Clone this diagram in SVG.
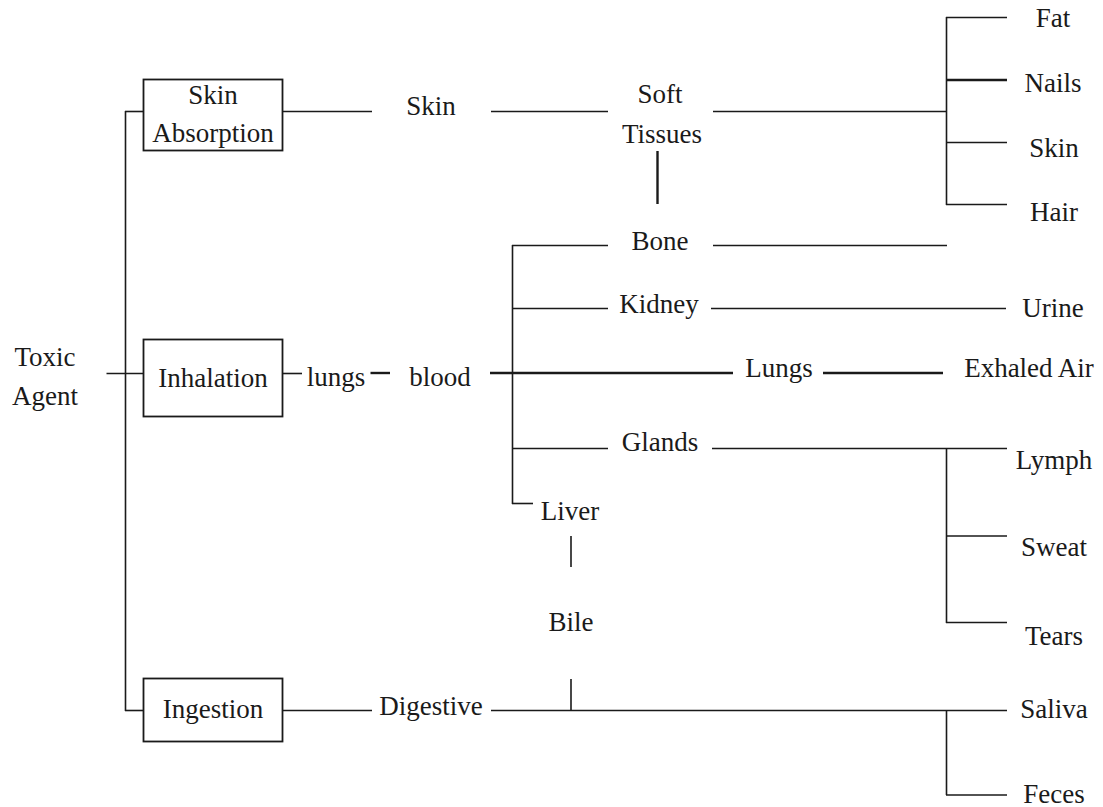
<svg xmlns="http://www.w3.org/2000/svg" width="1103" height="807" viewBox="0 0 1103 807">
<style>
text{font-size:27px;fill:#1a1a1a;text-anchor:middle}
.box{fill:#fff;stroke:#1a1a1a;stroke-width:1.8}
#connectors line{stroke:#1a1a1a;stroke-width:1.6;fill:none}
#connectors line.thick{stroke-width:2.4}
</style>
<rect width="1103" height="807" fill="#fff"/>
<g id="connectors">
<line x1="106.5" y1="373.5" x2="143" y2="373.5"/>
<line x1="125.5" y1="111" x2="125.5" y2="711"/>
<line x1="125" y1="111.5" x2="143" y2="111.5"/>
<line x1="125" y1="710.5" x2="143" y2="710.5"/>
<line x1="282" y1="111.5" x2="372" y2="111.5"/>
<line x1="491" y1="111.5" x2="608" y2="111.5"/>
<line x1="713" y1="111.5" x2="947" y2="111.5"/>
<line x1="946.5" y1="17" x2="946.5" y2="205"/>
<line x1="946" y1="17.5" x2="1007" y2="17.5"/>
<line class="thick" x1="946" y1="80" x2="1007" y2="80"/>
<line x1="946" y1="142.5" x2="1007" y2="142.5"/>
<line x1="946" y1="204.5" x2="1007" y2="204.5"/>
<line class="thick" x1="657.5" y1="151" x2="657.5" y2="204"/>
<line x1="282" y1="373.5" x2="302" y2="373.5"/>
<line class="thick" x1="370.5" y1="373" x2="390" y2="373"/>
<line class="thick" x1="490" y1="373" x2="733" y2="373"/>
<line class="thick" x1="823" y1="373" x2="943" y2="373"/>
<line x1="512.5" y1="245" x2="512.5" y2="504"/>
<line x1="512" y1="245.5" x2="608" y2="245.5"/>
<line x1="713" y1="245.5" x2="947" y2="245.5"/>
<line x1="512" y1="308.5" x2="608" y2="308.5"/>
<line x1="711" y1="308.5" x2="1006" y2="308.5"/>
<line x1="512" y1="448.5" x2="608" y2="448.5"/>
<line x1="712" y1="448.5" x2="1007" y2="448.5"/>
<line x1="512" y1="503.5" x2="533" y2="503.5"/>
<line x1="946.5" y1="448" x2="946.5" y2="623"/>
<line x1="946" y1="536" x2="1007" y2="536"/>
<line x1="946" y1="622.5" x2="1007" y2="622.5"/>
<line x1="571" y1="536" x2="571" y2="567"/>
<line x1="282" y1="710.5" x2="372" y2="710.5"/>
<line x1="491" y1="710.5" x2="1007" y2="710.5"/>
<line x1="571" y1="679" x2="571" y2="711"/>
<line x1="946.5" y1="710" x2="946.5" y2="795"/>
<line x1="946" y1="795" x2="1007" y2="795"/>
</g>
<g id="nodes" font-family="Liberation Serif, Times New Roman, serif">
<g id="toxic-agent"><text x="45" y="366">Toxic</text><text x="45" y="405">Agent</text></g>
<g id="skin-absorption"><rect class="box" x="143.5" y="79.5" width="139" height="71"/><text x="213" y="104">Skin</text><text x="213" y="142">Absorption</text></g>
<g id="inhalation"><rect class="box" x="143.5" y="339.5" width="139" height="77"/><text x="213" y="387">Inhalation</text></g>
<g id="ingestion"><rect class="box" x="143.5" y="678.5" width="139" height="63"/><text x="213" y="718">Ingestion</text></g>
<g id="skin"><text x="431" y="115">Skin</text></g>
<g id="soft-tissues"><text x="660" y="103">Soft</text><text x="662" y="143">Tissues</text></g>
<g id="fat"><text x="1053" y="27">Fat</text></g>
<g id="nails"><text x="1053" y="92">Nails</text></g>
<g id="skin-out"><text x="1054" y="157">Skin</text></g>
<g id="hair"><text x="1054" y="221">Hair</text></g>
<g id="lungs-in"><text x="336" y="386">lungs</text></g>
<g id="blood"><text x="440" y="386">blood</text></g>
<g id="bone"><text x="660" y="250">Bone</text></g>
<g id="kidney"><text x="659" y="313">Kidney</text></g>
<g id="urine"><text x="1053" y="317">Urine</text></g>
<g id="lungs"><text x="779" y="377">Lungs</text></g>
<g id="exhaled-air"><text x="1029" y="377">Exhaled Air</text></g>
<g id="glands"><text x="660" y="451">Glands</text></g>
<g id="liver"><text x="570" y="520">Liver</text></g>
<g id="bile"><text x="571" y="631">Bile</text></g>
<g id="digestive"><text x="431" y="715">Digestive</text></g>
<g id="lymph"><text x="1054" y="469">Lymph</text></g>
<g id="sweat"><text x="1054" y="556">Sweat</text></g>
<g id="tears"><text x="1054" y="645">Tears</text></g>
<g id="saliva"><text x="1054" y="718">Saliva</text></g>
<g id="feces"><text x="1054" y="803">Feces</text></g>
</g>
</svg>
